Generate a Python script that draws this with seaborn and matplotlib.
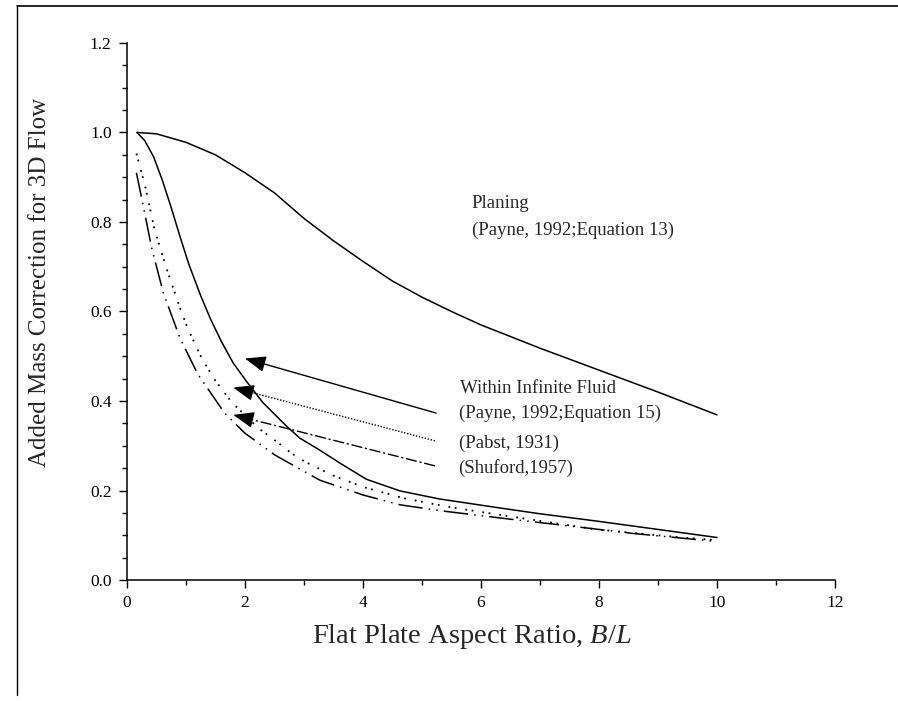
import numpy as np
import pandas as pd
import seaborn as sns
import matplotlib.pyplot as plt
from matplotlib.lines import Line2D

# curve values
planing_x = [0.17, 0.5, 1.0, 1.5, 2.0, 2.5, 3.0, 3.5, 4.0, 4.5, 5.0, 5.5, 6.0, 7.0, 8.0, 9.0, 10.0]
planing_y = [1.0, 0.997, 0.978, 0.95, 0.91, 0.865, 0.808, 0.758, 0.712, 0.668, 0.632, 0.6, 0.57, 0.518, 0.469, 0.42, 0.369]

payne_x = [0.17, 0.3, 0.45, 0.6, 0.75, 0.9, 1.05, 1.25, 1.41, 1.6, 1.8, 2.03, 2.3, 2.71, 2.93, 3.27, 3.6, 4.06, 4.63, 5.3, 6.32, 7.0, 8.0, 9.0, 10.0]
payne_y = [1.0, 0.982, 0.946, 0.893, 0.832, 0.767, 0.705, 0.635, 0.585, 0.533, 0.485, 0.443, 0.397, 0.343, 0.317, 0.29, 0.262, 0.225, 0.199, 0.181, 0.161, 0.148, 0.131, 0.113, 0.095]

pabst_x = [0.16, 0.31, 0.47, 0.66, 0.93, 1.04, 1.27, 1.49, 1.77, 2.23, 2.54, 2.79, 3.02, 3.5, 4.0, 4.68, 5.39, 5.95, 7.0, 7.96, 9.4, 10.0]
pabst_y = [0.953, 0.879, 0.782, 0.70, 0.596, 0.559, 0.495, 0.447, 0.398, 0.339, 0.309, 0.283, 0.264, 0.233, 0.208, 0.183, 0.165, 0.153, 0.132, 0.113, 0.095, 0.089]

shuford_x = [0.16, 0.3, 0.42, 0.62, 0.9, 1.2, 1.66, 2.0, 2.51, 3.27, 4.0, 4.63, 5.3, 6.49, 7.68, 8.58, 10.0]
shuford_y = [0.91, 0.82, 0.741, 0.64, 0.54, 0.46, 0.372, 0.328, 0.279, 0.223, 0.19, 0.168, 0.155, 0.136, 0.118, 0.104, 0.086]

plt.rcParams['mathtext.fontset'] = 'custom'
plt.rcParams['mathtext.it'] = 'Liberation Serif:italic'
plt.rcParams['mathtext.rm'] = 'Liberation Serif'

sns.set_style("ticks")
plt.rcParams['font.family'] = ['Liberation Serif', 'DejaVu Serif']

fig = plt.figure(figsize=(8.98, 7.01), dpi=100)
ax = fig.add_axes([0.1414, 0.1726, 0.7884, 0.7661])

lw = 1.1
sns.lineplot(x=planing_x, y=planing_y, ax=ax, color='black', lw=lw)
sns.lineplot(x=payne_x, y=payne_y, ax=ax, color='black', lw=lw)
sns.lineplot(x=pabst_x, y=pabst_y, ax=ax, color='black', lw=1.3, linestyle=(0, (1, 2.5, 1, 5)))
sns.lineplot(x=shuford_x, y=shuford_y, ax=ax, color='black', lw=lw, linestyle=(0, (16, 4, 1, 4, 1, 4)))

# annotation arrows: (tail at text, tip on curve, line style)
arrows = [((5.24, 0.373), (2.0, 0.495), '-'),
          ((5.22, 0.311), (1.8, 0.43), (0, (1, 1.2))),
          ((5.22, 0.255), (1.8, 0.369), (0, (8, 2, 1.5, 2)))]
for (tx, ty), (hx, hy), ls in arrows:
    fx = hx + 0.25
    fy = hy + (ty - hy) * 0.25 / (tx - hx)
    ax.add_line(Line2D([tx, fx], [ty, fy], color='black', lw=1.0, linestyle=ls))
    ax.annotate('', xy=(hx, hy), xytext=(fx + 0.05, fy + (ty - hy) * 0.05 / (tx - hx)),
                arrowprops=dict(arrowstyle='-|>,head_length=0.85,head_width=0.33',
                                mutation_scale=15, color='black', lw=1.0,
                                shrinkA=0, shrinkB=0))

fs = 13.5
ax.text(5.84, 0.842, 'Planing', fontsize=fs, va='center')
ax.text(5.84, 0.782, '(Payne, 1992;Equation 13)', fontsize=fs, va='center')
ax.text(5.64, 0.428, 'Within Infinite Fluid', fontsize=fs, va='center')
ax.text(5.62, 0.373, '(Payne, 1992;Equation 15)', fontsize=fs, va='center')
ax.text(5.62, 0.306, '(Pabst, 1931)', fontsize=fs, va='center')
ax.text(5.62, 0.25, '(Shuford,1957)', fontsize=fs, va='center')

ax.set_xlim(0, 12)
ax.set_ylim(0, 1.2)
ax.set_xticks(np.arange(0, 13, 2))
ax.set_xticks(np.arange(0, 13, 1), minor=True)
ax.set_yticks(np.arange(0, 1.21, 0.2))
ax.set_yticks(np.arange(0, 1.21, 0.05), minor=True)
ax.set_yticklabels([f'{v:.1f}' for v in np.arange(0, 1.21, 0.2)])
ax.tick_params(which='major', length=6, width=1, labelsize=12.5, colors='black', pad=5)
ax.tick_params(which='minor', length=3.5, width=1, colors='black')
sns.despine(ax=ax)
for s in ['left', 'bottom']:
    ax.spines[s].set_linewidth(1.1)
    ax.spines[s].set_color('black')

ax.set_xlabel('Flat Plate Aspect Ratio, $\\it{B/L}$', fontsize=20.5)
ax.set_ylabel('Added Mass Correction for 3D Flow', fontsize=18)
ax.xaxis.set_label_coords(0.487, -0.078)
ax.yaxis.set_label_coords(-0.108, 0.555)

# scanned page frame
fig.add_artist(Line2D([17 / 898, 1.0], [1 - 6 / 701, 1 - 6 / 701], color='black', lw=1.2))
fig.add_artist(Line2D([17 / 898, 17 / 898], [1 - 6 / 701, 1 - 695 / 701], color='black', lw=1.0))

plt.savefig('out.png', dpi=100)
